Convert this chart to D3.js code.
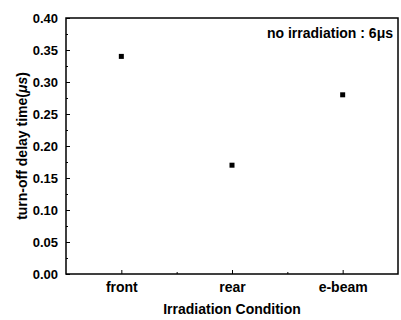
<!DOCTYPE html>
<html>
<head>
<meta charset="utf-8">
<script src="https://cdn.jsdelivr.net/npm/d3@7"></script>
<style>
  body { margin: 0; background: #fff; }
  text { font-family: "Liberation Sans", Arial, sans-serif; font-weight: bold; fill: #000; }
</style>
</head>
<body>
<script>
// data
const categories = ["front", "rear", "e-beam"];
const delayTimes = [0.34, 0.17, 0.28];
const yTicks = [0, 0.05, 0.10, 0.15, 0.20, 0.25, 0.30, 0.35, 0.40];
const note = "no irradiation : 6\u03bcs";

const W = 401, H = 320;
const margin = { top: 18, right: 3, bottom: 46, left: 66 };
const width = W - margin.left - margin.right;
const height = H - margin.top - margin.bottom;

const svg = d3.select("body").append("svg")
    .attr("width", W)
    .attr("height", H);

const g = svg.append("g")
    .attr("transform", "translate(" + margin.left + "," + margin.top + ")");

const x = d3.scaleLinear()
    .domain([0.5, categories.length + 0.5])
    .range([0, width]);

const y = d3.scaleLinear()
    .domain([0, 0.4])
    .range([height, 0]);

// frame
g.append("rect")
    .attr("width", width)
    .attr("height", height)
    .attr("fill", "none")
    .attr("stroke", "#000")
    .attr("stroke-width", 1.5);

// y axis, ticks inward
const yAxis = g.append("g")
    .call(d3.axisLeft(y).tickValues(yTicks).tickSize(-4).tickPadding(8).tickFormat(d3.format(".2f")));
yAxis.select(".domain").remove();
yAxis.selectAll("text").style("font-size", "13px");

// minor y ticks
g.append("g")
    .call(d3.axisLeft(y).tickValues(d3.range(0.025, 0.4, 0.05)).tickSize(-2).tickFormat(""))
    .select(".domain").remove();

// x axis
const xAxis = g.append("g")
    .attr("transform", "translate(0," + height + ")")
    .call(d3.axisBottom(x).tickValues(d3.range(1, categories.length + 1)).tickSize(-4).tickPadding(8)
        .tickFormat((d) => categories[d - 1]));
xAxis.select(".domain").remove();
xAxis.selectAll("text").style("font-size", "14px");

g.append("g")
    .attr("transform", "translate(0," + height + ")")
    .call(d3.axisBottom(x).tickValues([1.5, 2.5]).tickSize(-2).tickFormat(""))
    .select(".domain").remove();

// points
g.selectAll("rect.pt")
    .data(delayTimes)
    .enter()
    .append("rect")
    .attr("class", "pt")
    .attr("x", (d, i) => x(i + 1) - 2.5)
    .attr("y", (d) => y(d) - 2.5)
    .attr("width", 5)
    .attr("height", 5)
    .attr("fill", "#000");

// annotation
g.append("text")
    .attr("x", width - 5)
    .attr("y", 20)
    .attr("text-anchor", "end")
    .style("font-size", "14px")
    .text(note);

// axis titles
svg.append("text")
    .attr("x", margin.left + width / 2)
    .attr("y", 314)
    .attr("text-anchor", "middle")
    .style("font-size", "14px")
    .text("Irradiation Condition");

const yt = svg.append("text")
    .attr("transform", "translate(27," + (margin.top + height / 2) + ") rotate(-90)")
    .attr("text-anchor", "middle")
    .style("font-size", "14px");
yt.append("tspan").text("turn-off delay time(");
yt.append("tspan").style("font-style", "italic").text("\u03bcs");
yt.append("tspan").text(")");
</script>
</body>
</html>
